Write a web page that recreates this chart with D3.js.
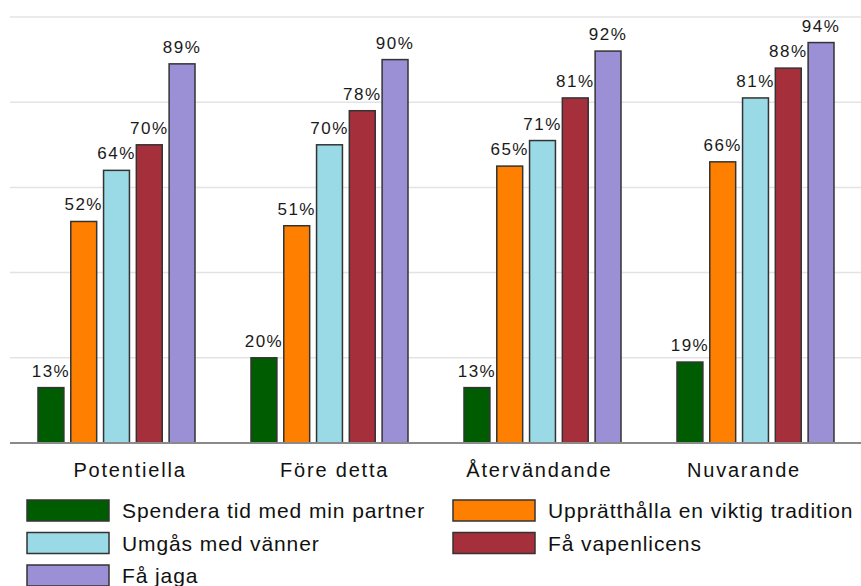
<!DOCTYPE html>
<html>
<head>
<meta charset="utf-8">
<script src="https://cdn.jsdelivr.net/npm/d3@7"></script>
<style>
	body { margin: 0; background: #fff; }
	svg { display: block; font-family: Arial, "Liberation Sans", sans-serif; }
</style>
</head>
<body>
<svg class="viz" width="861" height="586"></svg>
<script>
// categories and series
let categories = ["Potentiella", "Före detta", "Återvändande", "Nuvarande"];
let series = ["Spendera tid med min partner", "Upprätthålla en viktig tradition", "Umgås med vänner", "Få vapenlicens", "Få jaga"];
let colors = ["#005c00", "#ff8000", "#9ad9e6", "#a52f3a", "#9b8fd5"];

// values per series, one per category
let partner   = [13, 20, 13, 19];
let tradition = [52, 51, 65, 66];
let friends   = [64, 70, 71, 81];
let licence   = [70, 78, 81, 88];
let hunt      = [89, 90, 92, 94];
let values = [partner, tradition, friends, licence, hunt];

let gridTicks = [0, 20, 40, 60, 80, 100];

function render() {
	let grph = d3.select(".viz");
	const left = 10, right = 862, top = 17, base = 443;

	let x0 = d3.scaleBand().domain(categories).range([left, right]);
	let x1 = d3.scaleBand().domain(series).range([28, x0.bandwidth() - 28]).paddingInner(0.21);
	let y = d3.scaleLinear().domain([0, 100]).range([base, top]);
	// category labels sit a bit off the band centres in the original
	let xl = d3.scalePoint().domain(categories).range([130, 744]);

	// gridlines
	grph.append("g").selectAll("line")
		.data(gridTicks.slice(1))
		.join("line")
		.attr("x1", left).attr("x2", 861)
		.attr("y1", (d) => y(d)).attr("y2", (d) => y(d))
		.attr("stroke", "#e3e3e3").attr("stroke-width", 1.5);

	// bars
	let grp = grph.append("g").selectAll("g")
		.data(categories)
		.join("g")
		.attr("transform", (d) => "translate(" + x0(d) + ",0)");

	let cells = grp.selectAll("g")
		.data((c, ci) => series.map((s, si) => ({ s: s, si: si, v: values[si][ci] })))
		.join("g");

	cells.append("rect")
		.attr("x", (d) => x1(d.s))
		.attr("y", (d) => y(d.v))
		.attr("width", x1.bandwidth())
		.attr("height", (d) => base - y(d.v))
		.attr("fill", (d) => colors[d.si])
		.attr("stroke", "#333")
		.attr("stroke-width", 1.5);

	cells.append("text")
		.attr("x", (d) => x1(d.s) + x1.bandwidth() / 2)
		.attr("y", (d) => y(d.v) - 11)
		.attr("text-anchor", "middle")
		.attr("font-size", 17)
		.attr("letter-spacing", 1.5)
		.attr("fill", "#1a1a1a")
		.text((d) => d.v + "%");

	// baseline
	grph.append("line")
		.attr("x1", left).attr("x2", 861)
		.attr("y1", base).attr("y2", base)
		.attr("stroke", "#8a8a8a").attr("stroke-width", 2);

	// category labels
	grph.append("g").selectAll("text")
		.data(categories)
		.join("text")
		.attr("x", (d) => xl(d))
		.attr("y", 477)
		.attr("text-anchor", "middle")
		.attr("font-size", 20)
		.attr("letter-spacing", 1.8)
		.attr("fill", "#111")
		.text((d) => d);

	// legend, two columns
	let lgnd = grph.append("g").selectAll("g")
		.data(series)
		.join("g")
		.attr("transform", (d, i) => "translate(" + (i % 2 ? 453 : 27) + "," + (500 + Math.floor(i / 2) * 32.5) + ")");

	lgnd.append("rect")
		.attr("width", 82).attr("height", 21)
		.attr("fill", (d, i) => colors[i])
		.attr("stroke", "#333").attr("stroke-width", 1.5);

	lgnd.append("text")
		.attr("x", 95)
		.attr("y", 11)
		.attr("dy", "0.35em")
		.attr("font-size", 21)
		.attr("letter-spacing", 0.9)
		.attr("fill", "#111")
		.text((d) => d);
}

render();
</script>
</body>
</html>
